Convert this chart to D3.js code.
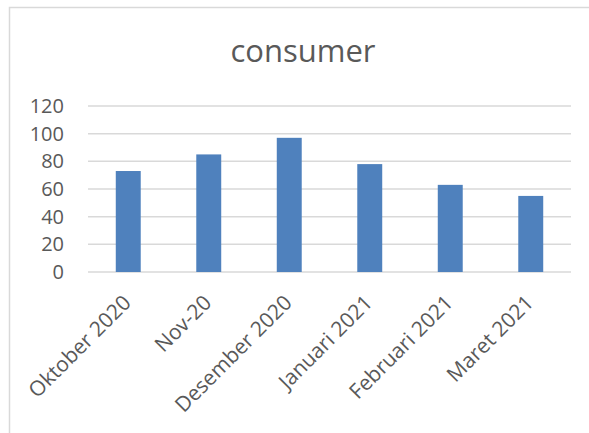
<!DOCTYPE html>
<html>
<head>
<meta charset="utf-8">
<title>consumer</title>
<style>
body { margin: 0; background: #fff; }
svg text { font-family: "Open Sans", sans-serif; fill: #595959; }
.grid line { stroke: #d9d9d9; stroke-width: 1.5px; }
.axis path, .axis line { display: none; }
</style>
</head>
<body>
<svg id="chart" width="589" height="433"></svg>
<script src="https://d3js.org/d3.v7.min.js"></script>
<script>
var months = ["Oktober 2020", "Nov-20", "Desember 2020", "Januari 2021", "Februari 2021", "Maret 2021"];
var consumer = [73, 85, 97, 78, 63, 55];
var yTicks = [0, 20, 40, 60, 80, 100, 120];

var svg = d3.select("#chart");
var margin = {left: 88, right: 18, top: 106, bottom: 161};
var width = 589 - margin.left - margin.right,
    height = 433 - margin.top - margin.bottom;

// chart frame (only top and left edges visible in the picture)
svg.append("path")
  .attr("d", "M9.5,433V7.5H589")
  .attr("fill", "none")
  .attr("stroke", "#d9d9d9")
  .attr("stroke-width", 1.5);

svg.append("text")
  .attr("x", 303).attr("y", 62)
  .attr("text-anchor", "middle")
  .style("font-size", "31px")
  .text("consumer");

var g = svg.append("g").attr("transform", "translate(" + margin.left + "," + margin.top + ")");

var x = d3.scaleBand().domain(months).range([0, width]).paddingInner(0.69).paddingOuter(0.345);
var y = d3.scaleLinear().domain([0, 120]).range([height, 0]);

g.append("g").attr("class", "grid")
  .selectAll("line").data(yTicks).enter().append("line")
  .attr("x1", 0).attr("x2", width)
  .attr("y1", function(d) { return y(d); })
  .attr("y2", function(d) { return y(d); });

g.selectAll(".bar").data(consumer).enter().append("rect")
  .attr("class", "bar")
  .attr("x", function(d, i) { return x(months[i]); })
  .attr("y", function(d) { return y(d); })
  .attr("width", x.bandwidth())
  .attr("height", function(d) { return height - y(d); })
  .attr("fill", "#4f81bd");

var yAxis = g.append("g").attr("class", "axis")
  .call(d3.axisLeft(y).tickValues(yTicks).tickSize(0).tickPadding(24));
yAxis.selectAll("text").style("font-size", "20px");

var xAxis = g.append("g").attr("class", "axis")
  .attr("transform", "translate(0," + height + ")")
  .call(d3.axisBottom(x).tickSize(0));
xAxis.selectAll("text")
  .style("font-size", "21px")
  .attr("text-anchor", "end")
  .attr("x", 0).attr("y", 0).attr("dy", 0)
  .attr("transform", "translate(4,32) rotate(-45)");
</script>
</body>
</html>
